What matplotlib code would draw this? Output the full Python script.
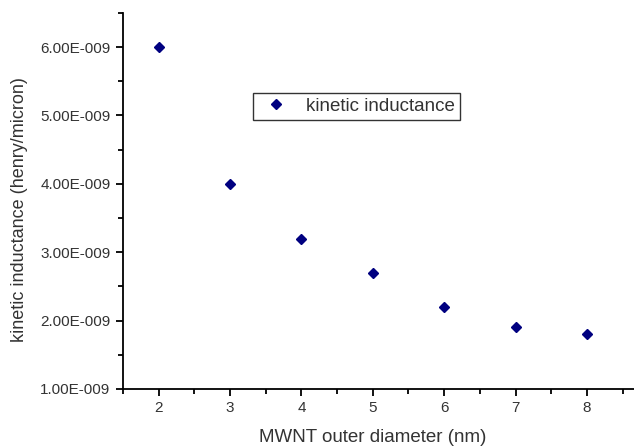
import numpy as np
import matplotlib
matplotlib.use("Agg")
import matplotlib.pyplot as plt

plt.rcParams['font.family'] = ['Liberation Sans', 'DejaVu Sans']

# data
diameter = [2, 3, 4, 5, 6, 7, 8]
inductance = [6.0e-9, 4.0e-9, 3.2e-9, 2.7e-9, 2.2e-9, 1.9e-9, 1.8e-9]
series_name = 'kinetic inductance'
x_label = 'MWNT outer diameter (nm)'
y_label = 'kinetic inductance (henry/micron)'

x_ticks = [2, 3, 4, 5, 6, 7, 8]
x_minor = [1.5, 2.5, 3.5, 4.5, 5.5, 6.5, 7.5, 8.5]
y_ticks = [1e-9, 2e-9, 3e-9, 4e-9, 5e-9, 6e-9]
y_tick_labels = ['1.00E-009', '2.00E-009', '3.00E-009', '4.00E-009',
                 '5.00E-009', '6.00E-009']
y_minor = [1.5e-9, 2.5e-9, 3.5e-9, 4.5e-9, 5.5e-9, 6.5e-9]

fig = plt.figure(figsize=(6.34, 4.47), dpi=100)
ax = fig.add_axes([0.194, 0.130, 0.806, 0.841])

ax.plot(diameter, inductance, linestyle='none', marker='D', markersize=5,
        color='#000080', label=series_name)

ax.set_xlim(1.5, 8.66)
ax.set_ylim(1.0e-9, 6.5e-9)

ax.set_xticks(x_ticks)
ax.set_xticks(x_minor, minor=True)
ax.set_yticks(y_ticks, y_tick_labels)
ax.set_yticks(y_minor, minor=True)
ax.yaxis.offsetText.set_visible(False)

for s in ['top', 'right']:
    ax.spines[s].set_visible(False)
for s in ['left', 'bottom']:
    ax.spines[s].set_linewidth(1.3)

ax.tick_params(which='major', direction='out', length=5, width=1.3,
               labelsize=11, labelcolor='#333333', pad=4)
ax.tick_params(which='minor', direction='out', length=3.5, width=1.3)

ax.set_xlabel(x_label, fontsize=13.5, color='#333333', labelpad=10)
ax.set_ylabel(y_label, fontsize=13, color='#333333', labelpad=9)
ax.xaxis.label.set_x(0.489)
ax.yaxis.label.set_y(0.476)

leg = ax.legend(loc='upper left', bbox_to_anchor=(0.254, 0.787), fontsize=13.5,
                frameon=True, fancybox=False, edgecolor='black',
                handletextpad=0.6, handlelength=2.0, borderpad=0.25,
                borderaxespad=0, labelcolor='#333333')
leg.get_frame().set_linewidth(1.0)

fig.savefig('out.png', dpi=100)
